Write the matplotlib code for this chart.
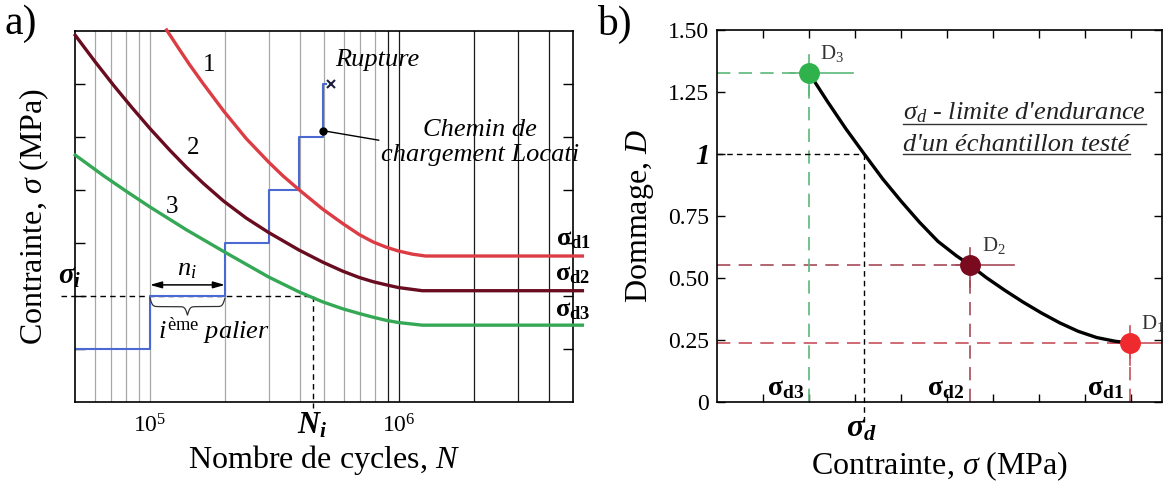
import numpy as np
import matplotlib
matplotlib.use('Agg')
import matplotlib.pyplot as plt
from matplotlib.lines import Line2D
from matplotlib.ticker import NullLocator

plt.rcParams['font.family'] = ['Liberation Serif', 'DejaVu Serif']
plt.rcParams['mathtext.fontset'] = 'custom'
plt.rcParams['mathtext.rm'] = 'Liberation Serif'
plt.rcParams['mathtext.it'] = 'Liberation Serif:italic'
plt.rcParams['mathtext.bf'] = 'Liberation Serif:bold'
plt.rcParams['mathtext.bfit'] = 'Liberation Serif:italic:bold'

# ==========================
# a) Courbes de Wohler + chemin Locati
# ==========================
N_c1 = [1.166e5, 1.318e5, 1.445e5, 1.634e5, 1.977e5, 2.436e5, 2.992e5, 3.414e5, 3.958e5,
        4.935e5, 5.933e5, 6.918e5, 7.87e5, 8.9e5, 9.94e5, 1.131e6, 1.278e6, 5.45e6]
S_c1 = [7.02, 6.64, 6.36, 6.01, 5.49, 4.97, 4.53, 4.27, 4.01,
        3.64, 3.37, 3.16, 3.02, 2.92, 2.85, 2.79, 2.755, 2.755]

N_c2 = [5.01e4, 6.0e4, 7.13e4, 8.45e4, 1.0e5, 1.202e5, 1.4e5, 1.634e5, 1.977e5, 2.436e5,
        2.992e5, 3.958e5, 4.935e5, 5.933e5, 6.918e5, 7.87e5, 8.9e5, 9.94e5, 1.24e6, 5.45e6]
S_c2 = [6.92, 6.43, 5.98, 5.56, 5.16, 4.75, 4.43, 4.13, 3.79, 3.47,
        3.20, 2.87, 2.64, 2.47, 2.35, 2.27, 2.21, 2.16, 2.10, 2.10]

N_c3 = [5.01e4, 6.51e4, 8.07e4, 1.0e5, 1.4e5, 1.977e5, 2.992e5, 3.958e5, 4.935e5,
        5.933e5, 6.918e5, 7.87e5, 8.9e5, 9.94e5, 1.24e6, 5.45e6]
S_c3 = [4.66, 4.27, 3.97, 3.68, 3.25, 2.84, 2.36, 2.08, 1.89,
        1.76, 1.67, 1.60, 1.54, 1.50, 1.45, 1.45]

# paliers du chemin de chargement
step_N = [5e4, 1e5, 2e5, 3e5, 3.958e5, 4.95e5, 5.1e5]
step_S = [1, 2, 3, 4, 5, 6, 6]

N_rupture, S_rupture = 5.35e5, 6.0
N_point, S_point = 4.95e5, 5.12
sigma_i = 2.0
N_i = 4.5e5
palier_i = (1e5, 2e5)

grid_N = [k * 10.0**d for d in (4, 5, 6) for k in range(1, 10)]
grid_N = [g for g in grid_N if 5e4 < g < 5e6]

# ==========================
# b) Dommage
# ==========================
sig_curve = [1.996, 2.4, 2.8, 3.2, 3.6, 4.0, 4.4, 4.8, 5.2, 5.5,
             5.85, 6.25, 6.65, 7.05, 7.45, 7.85, 8.25, 8.65, 8.97]
D_curve = [1.328, 1.212, 1.102, 1.0, 0.90, 0.81, 0.725, 0.648, 0.59, 0.552,
           0.502, 0.451, 0.403, 0.359, 0.319, 0.285, 0.26, 0.245, 0.238]

sig_pts = [8.97, 5.5, 1.996]
D_pts = [0.238, 0.552, 1.328]
pt_colors = ['#ee2a2e', '#7a0a1e', '#2fb24c']
line_colors = ['#c8505c', '#a44a58', '#5cb87a']
pt_names = ['1', '2', '3']
sigma_d = 3.2

c_red, c_dark, c_green, c_blue = '#dc3c44', '#6a0c20', '#35a855', '#4a6ad2'

fig = plt.figure(figsize=(11.76, 4.83), dpi=100)

# ---------------- panel a ----------------
ax1 = fig.add_axes([0.0638, 0.1677, 0.4235, 0.768])
ax1.set_xscale('log')
ax1.set_xlim(5e4, 5e6)
ax1.set_ylim(0, 7)

for g in grid_N:
    ax1.axvline(g, color='#1a1a1a' if g >= 9e5 else '#a8a8a8', lw=0.9, zorder=0)

ax1.plot(N_c1, S_c1, color=c_red, lw=2.4, clip_on=False, zorder=3)
ax1.plot(N_c2, S_c2, color=c_dark, lw=2.4, clip_on=False, zorder=3)
ax1.plot(N_c3, S_c3, color=c_green, lw=2.4, clip_on=False, zorder=3)
ax1.plot(step_N, step_S, drawstyle='steps-post', color=c_blue, lw=1.5, zorder=2)

ax1.plot([N_rupture], [S_rupture], 'x', color='#202040', ms=6, mew=1.5)
ax1.plot([N_point], [S_point], 'o', color='k', ms=5, zorder=5)
ax1.annotate('', xy=(N_point, S_point), xytext=(8.3e5, 4.94),
             arrowprops=dict(arrowstyle='-', color='k', lw=1, shrinkA=0, shrinkB=0))

# sigma_i / N_i
ax1.plot([4.4e4, N_i], [sigma_i, sigma_i], 'k--', lw=1, dashes=(4, 3), clip_on=False, zorder=1)
ax1.plot([N_i, N_i], [sigma_i, -0.12], 'k--', lw=1, dashes=(4, 3), clip_on=False, zorder=1)
ax1.text(4.75e4, 2.36, r'$\mathbfit{\sigma_i}$', fontsize=21, ha='center', va='center')
ax1.text(N_i, -0.45, r'$\mathbfit{N_i}$', fontsize=22, ha='center', va='center')

# n_i
ax1.annotate('', xy=(palier_i[0], 2.21), xytext=(palier_i[1], 2.21),
             arrowprops=dict(arrowstyle='<|-|>,head_length=0.7,head_width=0.2',
                             color='k', lw=1.1, shrinkA=0, shrinkB=0))
ax1.text(1.41e5, 2.5, r'$n_i$', fontsize=19, ha='center', va='center')

# accolade sous le palier
u = np.linspace(np.log10(palier_i[0]), np.log10(palier_i[1]), 201)
t = np.linspace(0, 0.5, 101)
h = 1 / (1 + np.exp(-60 * (t - t[0]))) + 1 / (1 + np.exp(-60 * (t - t[-1])))
h = np.concatenate([h, h[-2::-1]]) - 0.5
ax1.plot(10**u, sigma_i - 0.04 - 0.32 * h, color='#333333', lw=0.9)
ax1.text(1.81e5, 1.33, r'$i^{\mathrm{ème}}$ palier', fontsize=19, style='italic',
         ha='center', va='center')

# labels des courbes
ax1.text(1.72e5, 6.36, '1', fontsize=18, ha='center', va='center')
ax1.text(1.49e5, 4.79, '2', fontsize=18, ha='center', va='center')
ax1.text(1.23e5, 3.68, '3', fontsize=18, ha='center', va='center')
ax1.text(5.0e6, 3.06, r'$\mathbf{\sigma_{d1}}$', fontsize=19, ha='center', va='center')
ax1.text(5.0e6, 2.40, r'$\mathbf{\sigma_{d2}}$', fontsize=19, ha='center', va='center')
ax1.text(5.0e6, 1.72, r'$\mathbf{\sigma_{d3}}$', fontsize=19, ha='center', va='center')

ax1.text(8.2e5, 6.45, 'Rupture', fontsize=19, style='italic', ha='center', va='center')
ax1.text(2.12e6, 4.9, 'Chemin de\nchargement Locati', fontsize=19, style='italic',
         ha='center', va='center', linespacing=1.2)

ax1.set_xticks([1e5, 1e6])
ax1.set_xticklabels([r'$10^5$', r'$10^6$'])
ax1.xaxis.set_minor_locator(NullLocator())
ax1.tick_params(axis='x', length=0, pad=9, labelsize=17)
ax1.set_yticks(range(1, 7))
ax1.set_yticklabels([])
ax1.tick_params(axis='y', direction='in', left=True, right=True, length=7, width=1)
for s in ax1.spines.values():
    s.set_linewidth(1.2)
ax1.set_xlabel(r'Nombre de cycles, $N$', fontsize=23, labelpad=4)
ax1.set_ylabel(r'Contrainte, $\sigma$ (MPa)', fontsize=23, labelpad=14)

fig.text(0.004, 0.99, 'a)', fontsize=30, ha='left', va='top')
fig.text(0.508, 0.99, 'b)', fontsize=30, ha='left', va='top')

# ---------------- panel b ----------------
ax2 = fig.add_axes([0.6097, 0.1677, 0.3784, 0.770])
ax2.set_xlim(0, 9.67)
ax2.set_ylim(0, 1.5)

for s, d, pc, lc, nm in zip(sig_pts, D_pts, pt_colors, line_colors, pt_names):
    ax2.plot([0, s], [d, d], color=lc, lw=1.2, dashes=(8, 5))
    ax2.plot([s, s], [0, d], color=lc, lw=1.2, dashes=(8, 5))
    ax2.plot([s - 0.4, min(s + 0.95, 9.67)], [d, d], color=lc, lw=1.2)
    ax2.plot([s, s], [d - 0.09, d + 0.07], color=lc, lw=1.2)
    ax2.text(s + 0.25, d + 0.035, r'D$_{%s}$' % nm, fontsize=15, color='#333333',
             ha='left', va='bottom')

ax2.plot([0, sigma_d], [1, 1], 'k--', lw=1, dashes=(4, 3))
ax2.plot([sigma_d, sigma_d], [-0.08, 1], 'k--', lw=1, dashes=(4, 3), clip_on=False)
ax2.plot(sig_curve, D_curve, color='k', lw=2.4, zorder=4)
for s, d, pc in zip(sig_pts, D_pts, pt_colors):
    ax2.plot([s], [d], 'o', color=pc, ms=14, zorder=5, clip_on=False)

ax2.text(1.5, 0.055, r'$\mathbf{\sigma_{d3}}$', fontsize=20, ha='center', va='center')
ax2.text(4.97, 0.055, r'$\mathbf{\sigma_{d2}}$', fontsize=20, ha='center', va='center')
ax2.text(8.45, 0.055, r'$\mathbf{\sigma_{d1}}$', fontsize=20, ha='center', va='center')
ax2.text(3.13, -0.11, r'$\mathbfit{\sigma_d}$', fontsize=23, ha='center', va='center')

t1 = ax2.text(4.05, 1.165, r"$\sigma_d$ - limite d'endurance", fontsize=19, style='italic',
              ha='left', va='center', color='#222222')
t2 = ax2.text(4.05, 1.035, "d'un échantillon testé", fontsize=19, style='italic',
              ha='left', va='center', color='#222222')

ax2.set_xticks(range(1, 10))
ax2.set_xticklabels([])
ax2.set_yticks([0, 0.25, 0.5, 0.75, 1.0, 1.25, 1.5])
ax2.set_yticklabels(['0', '0.25', '0.50', '0.75', r'$\mathbfit{1}$', '1.25', '1.50'])
ax2.tick_params(axis='both', direction='in', top=True, right=True, length=6, width=1,
                labelsize=17, pad=6)
ax2.get_yticklabels()[4].set_fontsize(21)
for s in ax2.spines.values():
    s.set_linewidth(1.2)
ax2.set_xlabel(r'Contrainte, $\sigma$ (MPa)', fontsize=23, labelpad=28)
ax2.set_ylabel(r'Dommage, $D$', fontsize=23, labelpad=8)

# soulignement du texte
fig.canvas.draw()
inv = fig.transFigure.inverted()
for txt in (t1, t2):
    bb = txt.get_window_extent()
    (x0, y0), (x1, _) = inv.transform([[bb.x0, bb.y0], [bb.x1, bb.y0]])
    fig.add_artist(Line2D([x0, x1], [y0 + 0.004, y0 + 0.004], transform=fig.transFigure,
                          color='#333333', lw=1))

fig.savefig('out.png', dpi=100)
